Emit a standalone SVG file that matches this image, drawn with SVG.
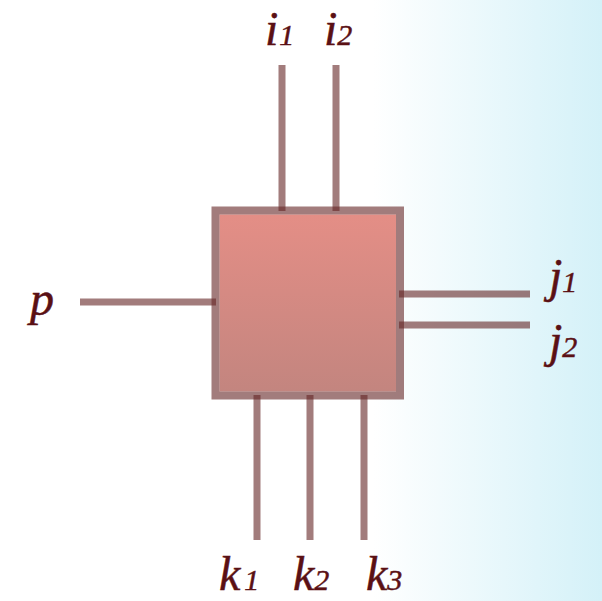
<svg xmlns="http://www.w3.org/2000/svg" width="602" height="601" viewBox="0 0 602 601">
<defs>
<linearGradient id="bg" x1="0" y1="0" x2="1" y2="0">
<stop offset="0.62" stop-color="#ffffff"/>
<stop offset="1" stop-color="#d4f1f8"/>
</linearGradient>
<linearGradient id="boxfill" x1="0" y1="0" x2="0" y2="1">
<stop offset="0" stop-color="#e48e86"/>
<stop offset="1" stop-color="#c3857f"/>
</linearGradient>
<style>
.ln{stroke:#642525;stroke-opacity:0.6;stroke-width:7;fill:none}
.lbl{font-family:"Liberation Serif",serif;font-style:italic;font-size:48px;fill:#5a1014;stroke:#5a1014;stroke-width:0.5}
.sub{font-size:30px}
</style>
</defs>
<rect x="0" y="0" width="602" height="601" fill="url(#bg)"/>
<g id="box">
<rect x="219.5" y="214.5" width="176.5" height="177" fill="url(#boxfill)"/>
<path d="M211.5 206.5H404V399.5H211.5Z M219.5 214.5V391.5H396V214.5Z" fill="#642525" fill-opacity="0.6" fill-rule="evenodd"/>
</g>
<g id="connectors">
<line class="ln" x1="282" y1="65" x2="282" y2="211"/>
<line class="ln" x1="336" y1="65" x2="336" y2="211"/>
<line class="ln" x1="80" y1="302" x2="216" y2="302"/>
<line class="ln" x1="399" y1="294" x2="530" y2="294"/>
<line class="ln" x1="399" y1="325" x2="530" y2="325"/>
<line class="ln" x1="257" y1="395" x2="257" y2="540"/>
<line class="ln" x1="310" y1="395" x2="310" y2="540"/>
<line class="ln" x1="364" y1="395" x2="364" y2="540"/>
</g>
<g id="label-i1"><text class="lbl" x="265" y="45">i<tspan class="sub" dx="1">1</tspan></text></g>
<g id="label-i2"><text class="lbl" x="324" y="45">i<tspan class="sub">2</tspan></text></g>
<g id="label-p"><text class="lbl" x="30" y="315">p</text></g>
<g id="label-j1"><text class="lbl" x="549" y="292">j<tspan class="sub">1</tspan></text></g>
<g id="label-j2"><text class="lbl" x="549" y="357">j<tspan class="sub">2</tspan></text></g>
<g id="label-k1"><text class="lbl" x="219" y="590">k<tspan class="sub" dx="4">1</tspan></text></g>
<g id="label-k2"><text class="lbl" x="293" y="590">k<tspan class="sub">2</tspan></text></g>
<g id="label-k3"><text class="lbl" x="366" y="590">k<tspan class="sub">3</tspan></text></g>
</svg>
